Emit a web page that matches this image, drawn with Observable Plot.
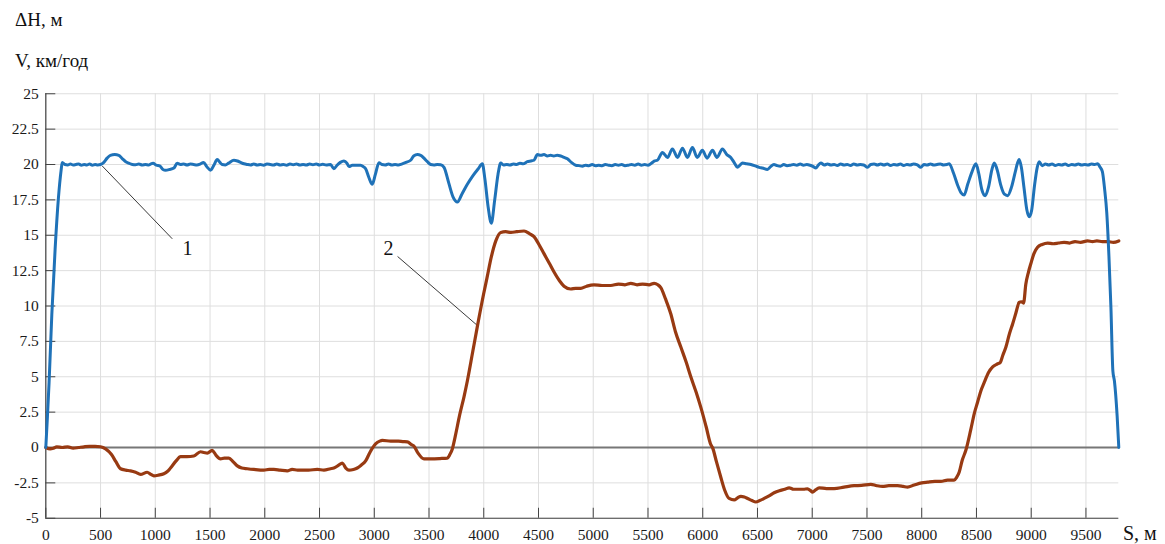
<!DOCTYPE html>
<html>
<head>
<meta charset="utf-8">
<script src="https://cdn.jsdelivr.net/npm/d3@7"></script>
<script src="https://cdn.jsdelivr.net/npm/@observablehq/plot@0.6"></script>
<style>
  body { margin: 0; background: #fff; }
  #wrap { position: relative; width: 1165px; height: 544px; font-family: "Liberation Serif", "DejaVu Serif", serif; color: #111; }
  .lbl { position: absolute; font-size: 19px; line-height: 19px; white-space: nowrap; font-family: "Liberation Serif", "DejaVu Serif", serif; }
  #chart { position: absolute; left: 0; top: 75px; }
  #chart svg, #chart svg text { font-family: "Liberation Serif", "DejaVu Serif", serif !important; }
</style>
</head>
<body>
<div id="wrap">
  <div class="lbl" style="left:15px; top:10px;">ΔH, м</div>
  <div class="lbl" style="left:15px; top:51px;">V, км/год</div>
  <div id="chart"></div>
  <div class="lbl" style="left:1123px; top:523px; font-size:20px; line-height:20px;">S, м</div>
</div>
<script>
// Distance along the route, m
const xTicks = [0, 500, 1000, 1500, 2000, 2500, 3000, 3500, 4000, 4500, 5000,
                5500, 6000, 6500, 7000, 7500, 8000, 8500, 9000, 9500];
const yTicks = [-5, -2.5, 0, 2.5, 5, 7.5, 10, 12.5, 15, 17.5, 20, 22.5, 25];

// Curve 1: speed V, km/h, against distance S
const speedS = [
  0, 15, 30, 55, 85, 115, 140, 150, 175, 200, 225, 250, 275, 300, 325, 350, 375, 400, 425, 450, 475, 500,
  530, 560, 590, 630, 667, 700, 730, 757, 790, 820, 850, 880, 910, 940, 957, 980, 1010, 1040, 1070, 1094,
  1130, 1170, 1200, 1230, 1260, 1290, 1320, 1350, 1380, 1410, 1441, 1470, 1505, 1535, 1566, 1590, 1611,
  1640, 1670, 1718, 1750, 1779, 1810, 1840, 1870, 1900, 1930, 1960, 1990, 2020, 2050, 2080, 2110, 2140,
  2170, 2200, 2230, 2260, 2290, 2320, 2350, 2380, 2410, 2440, 2470, 2500, 2530, 2560, 2601, 2631, 2660,
  2690, 2723, 2750, 2769, 2800, 2840, 2875, 2900, 2921, 2950, 2982, 3010, 3043, 3070, 3100, 3130, 3160,
  3190, 3220, 3250, 3290, 3332, 3360, 3394, 3424, 3454, 3485, 3515, 3545, 3575, 3606, 3637, 3680, 3720,
  3759, 3800, 3850, 3900, 3950, 3987, 4010, 4040, 4069, 4100, 4130, 4155, 4180, 4210, 4240, 4270, 4300,
  4330, 4360, 4398, 4430, 4459, 4490, 4520, 4550, 4580, 4610, 4640, 4670, 4703, 4735, 4764, 4800, 4840,
  4870, 4901, 4930, 4960, 4990, 5020, 5050, 5080, 5110, 5140, 5170, 5200, 5230, 5260, 5290, 5320, 5350,
  5380, 5410, 5440, 5470, 5500, 5525, 5560, 5586, 5632, 5678, 5723, 5770, 5815, 5860, 5906, 5950, 5997,
  6040, 6089, 6130, 6180, 6220, 6256, 6290, 6317, 6340, 6363, 6400, 6440, 6480, 6515, 6545, 6591, 6620,
  6650, 6680, 6710, 6740, 6770, 6800, 6830, 6860, 6890, 6920, 6950, 6980, 7010, 7033, 7055, 7079, 7110,
  7140, 7170, 7200, 7230, 7260, 7290, 7320, 7350, 7380, 7410, 7440, 7470, 7505, 7535, 7565, 7595, 7625,
  7655, 7685, 7715, 7745, 7775, 7805, 7835, 7865, 7895, 7925, 7960, 7992, 8020, 8050, 8080, 8110, 8140,
  8170, 8200, 8230, 8251, 8290, 8330, 8360, 8388, 8420, 8460, 8495, 8520, 8550, 8580, 8610, 8640, 8662,
  8690, 8720, 8755, 8785, 8820, 8855, 8875, 8890, 8910, 8935, 8960, 8982, 9005, 9030, 9055, 9073, 9100,
  9130, 9160, 9190, 9220, 9250, 9280, 9310, 9340, 9370, 9400, 9430, 9460, 9490, 9520, 9550, 9580, 9607,
  9630, 9650, 9670, 9690, 9710, 9728, 9746, 9760, 9785, 9800
];
const speedV = [
  0, 2.2, 4.6, 9.4, 14.0, 17.6, 19.6, 20.15, 20.0, 19.97, 20.03, 19.97, 20.0, 20.03, 19.95, 20.0, 19.97, 20.03, 19.95, 20.0, 19.97, 20.0,
  20.15, 20.45, 20.65, 20.7, 20.65, 20.4, 20.2, 20.1, 20.0, 19.98, 20.03, 19.97, 20.0, 19.97, 20.03, 20.08, 19.95, 19.9, 19.65, 19.6,
  19.65, 19.75, 20.08, 20.0, 20.03, 19.97, 20.03, 20.0, 19.97, 20.03, 20.15, 19.85, 19.6, 19.95, 20.35, 20.15, 20.0,
  19.97, 20.1, 20.3, 20.25, 20.15, 20.05, 20.0, 19.97, 20.03, 19.97, 20.0, 19.95, 20.03, 20.0, 19.97, 20.03, 19.97,
  20.0, 19.95, 20.03, 19.98, 20.03, 19.97, 20.0, 19.97, 20.03, 19.98, 20.03, 19.97, 20.02, 19.97, 20.0, 19.7, 19.95,
  20.15, 20.25, 20.1, 19.85, 19.95, 19.95, 19.95, 19.85, 19.7, 19.1, 18.6, 19.3, 20.12, 20.0, 19.97, 20.03, 19.97,
  20.0, 19.97, 20.03, 20.15, 20.3, 20.6, 20.7, 20.65, 20.45, 20.2, 20.0, 19.97, 20.0, 19.98, 19.8, 18.7, 17.7,
  17.35, 17.9, 18.6, 19.2, 19.7, 20.05, 19.0, 17.0, 15.85, 17.5, 19.3, 20.1, 19.97, 20.0, 19.97, 20.03, 20.0,
  20.08, 20.05, 20.2, 20.25, 20.3, 20.7, 20.65, 20.7, 20.6, 20.65, 20.6, 20.65, 20.6, 20.5, 20.4, 20.15, 19.95,
  19.92, 19.88, 19.95, 19.92, 20.0, 19.92, 19.95, 19.92, 20.0, 19.95, 19.92, 20.0, 19.95, 20.0, 19.92, 19.95, 20.0,
  19.95, 20.03, 19.95, 20.0, 19.95, 20.05, 20.25, 20.3, 20.85, 20.5, 21.1, 20.5, 21.15, 20.5, 21.2, 20.5, 21.0,
  20.45, 21.0, 20.5, 21.1, 20.7, 20.5, 20.1, 19.8, 19.95, 20.1, 20.05, 20.0, 19.9, 19.8, 19.75, 19.65, 19.85,
  20.0, 19.92, 19.88, 20.0, 19.92, 19.95, 20.0, 19.95, 20.03, 19.95, 20.0, 19.95, 19.85, 19.75, 19.95, 20.1, 19.97,
  20.03, 19.97, 20.0, 19.93, 20.03, 19.97, 20.0, 19.93, 20.03, 19.97, 20.0, 19.97, 19.8, 20.0, 20.03, 19.97, 20.03,
  19.97, 20.03, 19.93, 20.0, 19.97, 20.03, 19.93, 20.0, 19.97, 20.03, 19.97, 19.8, 20.0, 19.97, 20.03, 19.97, 20.0,
  20.03, 19.97, 20.0, 20.05, 19.4, 18.5, 18.0, 17.85, 18.6, 19.5, 20.05, 19.4, 18.2, 17.8, 18.4, 19.6, 20.1,
  19.6, 18.6, 17.9, 17.8, 18.4, 19.5, 20.1, 20.35, 19.8, 18.3, 16.8, 16.3, 16.8, 18.5, 19.8, 20.2, 19.92,
  20.03, 19.97, 20.03, 19.93, 20.0, 19.97, 20.03, 19.93, 20.0, 19.97, 20.03, 19.97, 20.0, 19.97, 20.03, 20.0, 20.05,
  19.8, 19.5, 18.3, 16.6, 13.5, 9.9, 5.4, 4.7, 2.2, 0
];

// Curve 2: elevation difference ΔH, m, against distance S
const elevS = [
  0, 40, 70, 100, 150, 200, 250, 300, 350, 400, 450, 500, 546, 600, 640, 683, 730, 774, 820, 865, 926, 960,
  987, 1030, 1078, 1110, 1139, 1190, 1231, 1290, 1352, 1413, 1445, 1475, 1520, 1555, 1596, 1630, 1672, 1710,
  1749, 1790, 1840, 1900, 1992, 2040, 2083, 2140, 2205, 2250, 2300, 2400, 2480, 2540, 2600, 2631, 2675, 2708,
  2740, 2769, 2810, 2845, 2880, 2921, 2960, 3012, 3050, 3074, 3150, 3220, 3260, 3302, 3340, 3362, 3400, 3454,
  3520, 3600, 3667, 3690, 3713, 3740, 3780, 3820, 3850, 3900, 3945, 4000, 4030, 4070, 4110, 4155, 4200, 4250,
  4300, 4368, 4420, 4459, 4500, 4550, 4600, 4642, 4690, 4733, 4794, 4840, 4886, 4940, 5007, 5080, 5160, 5230,
  5290, 5343, 5400, 5450, 5510, 5556, 5590, 5617, 5660, 5708, 5750, 5800, 5850, 5891, 5940, 5982, 6030, 6074,
  6089, 6125, 6165, 6200, 6241, 6287, 6320, 6348, 6380, 6409, 6450, 6485, 6520, 6561, 6610, 6652, 6700, 6750,
  6789, 6830, 6866, 6920, 6957, 6985, 7003, 7030, 7063, 7130, 7200, 7290, 7383, 7450, 7535, 7590, 7642, 7700,
  7779, 7830, 7870, 7931, 8000, 8053, 8120, 8175, 8236, 8296, 8320, 8342, 8370, 8403, 8449, 8480, 8510, 8540,
  8571, 8610, 8648, 8690, 8717, 8740, 8769, 8800, 8831, 8860, 8890, 8910, 8930, 8951, 8975, 8997, 9025, 9058,
  9100, 9150, 9200, 9250, 9300, 9350, 9400, 9450, 9515, 9560, 9600, 9650, 9700, 9750, 9800
];
const elevH = [
  0, -0.1, -0.05, 0.05, 0.0, 0.05, -0.05, 0.0, 0.05, 0.08, 0.08, 0.05, -0.1, -0.5, -1.0, -1.5, -1.6, -1.65, -1.75, -1.9, -1.75, -1.9,
  -2.0, -1.95, -1.85, -1.7, -1.45, -0.95, -0.65, -0.65, -0.6, -0.3, -0.35, -0.4, -0.2, -0.55, -0.8, -0.75, -0.75, -1.0,
  -1.3, -1.45, -1.5, -1.55, -1.6, -1.55, -1.55, -1.6, -1.65, -1.55, -1.6, -1.6, -1.55, -1.6, -1.5, -1.45, -1.25, -1.1,
  -1.45, -1.6, -1.55, -1.45, -1.25, -0.95, -0.35, 0.25, 0.45, 0.5, 0.45, 0.45, 0.42, 0.4, 0.2, 0.1, -0.4, -0.8,
  -0.8, -0.78, -0.75, -0.5, -0.1, 0.8, 2.3, 3.6, 4.7, 6.8, 8.7, 10.9, 12.0, 13.5, 14.6, 15.2, 15.25, 15.2,
  15.25, 15.3, 15.1, 14.9, 14.4, 13.7, 13.0, 12.4, 11.8, 11.4, 11.2, 11.25, 11.25, 11.4, 11.5, 11.45, 11.45, 11.55,
  11.5, 11.6, 11.5, 11.55, 11.5, 11.6, 11.5, 11.3, 10.5, 9.45, 8.2, 7.1, 6.0, 5.0, 3.9, 2.85, 1.5, 0.2,
  0.0, -1.0, -2.1, -3.0, -3.6, -3.7, -3.55, -3.45, -3.5, -3.6, -3.75, -3.85, -3.75, -3.6, -3.4, -3.2, -3.05, -2.95,
  -2.85, -2.95, -2.95, -2.95, -2.92, -3.05, -3.15, -3.0, -2.85, -2.9, -2.9, -2.8, -2.7, -2.68, -2.6, -2.7, -2.75, -2.7,
  -2.7, -2.75, -2.8, -2.65, -2.5, -2.45, -2.4, -2.4, -2.3, -2.3, -2.1, -1.75, -0.9, -0.2, 1.3, 2.4, 3.2, 4.0,
  4.6, 5.3, 5.7, 5.9, 6.0, 6.5, 7.1, 8.0, 8.75, 9.5, 10.25, 10.3, 10.2, 11.55, 12.4, 13.0, 13.7, 14.15,
  14.35, 14.45, 14.4, 14.45, 14.5, 14.45, 14.55, 14.5, 14.6, 14.55, 14.6, 14.55, 14.55, 14.5, 14.6
];

// Curve numbers with their leader lines
const calloutText = ["1", "2"];
const calloutS = [1294, 3131];
const calloutY = [14.05, 14.05];
const leaderS1 = [515, 3213];
const leaderY1 = [19.9, 13.5];
const leaderS2 = [1155, 3945];
const leaderY2 = [14.75, 8.6];

const speed = speedS.map((s, i) => ({s, v: speedV[i]}));
const elev = elevS.map((s, i) => ({s, h: elevH[i]}));
const callouts = calloutText.map((t, i) => ({
  t, s: calloutS[i], y: calloutY[i],
  x1: leaderS1[i], y1: leaderY1[i], x2: leaderS2[i], y2: leaderY2[i]
}));

const W = 1165, H = 469;
const mL = 45.3, mR = 46.7, mT = 18.25, mB = 26.25;
const plotW = W - mL - mR, plotH = H - mT - mB;
const tickLen = 10;
const fmt = d => String(d);
const serif = "Liberation Serif";

const chart = Plot.plot({
  width: W,
  height: H,
  marginLeft: mL,
  marginRight: mR,
  marginTop: mT,
  marginBottom: mB,
  style: {fontFamily: serif, fontSize: "15.5px", color: "#1a1a1a", background: "#fff"},
  x: {domain: [0, 9800]},
  y: {domain: [-5, 25]},
  marks: [
    Plot.gridX(xTicks, {stroke: "#dedede", strokeOpacity: 1}),
    Plot.gridY(yTicks, {stroke: "#dedede", strokeOpacity: 1}),
    Plot.ruleY([0], {stroke: "#777", strokeWidth: 2}),
    Plot.ruleX([0], {stroke: "#444", strokeWidth: 1.2}),
    Plot.ruleY([-5], {stroke: "#444", strokeWidth: 1.2}),
    Plot.ruleX(xTicks, {x: d => d, insetTop: plotH - tickLen, stroke: "#444"}),
    Plot.ruleY(yTicks, {y: d => d, insetRight: plotW - tickLen, stroke: "#444"}),
    Plot.axisX(xTicks, {tickSize: 0, tickPadding: 11, tickFormat: fmt, label: null, fontFamily: serif, fontSize: 15.5}),
    Plot.axisY(yTicks, {tickSize: 0, tickPadding: 7, tickFormat: fmt, label: null, fontFamily: serif, fontSize: 15.5}),
    Plot.link(callouts, {x1: "x1", y1: "y1", x2: "x2", y2: "y2", stroke: "#222", strokeWidth: 0.9}),
    Plot.text(callouts, {x: "s", y: "y", text: "t", fontSize: 20, fontFamily: serif, fill: "#111"}),
    Plot.line(elev, {x: "s", y: "h", curve: "monotone-x", stroke: "#983a12", strokeWidth: 3.2, strokeLinejoin: "round"}),
    Plot.line(speed, {x: "s", y: "v", curve: "monotone-x", stroke: "#1f72b8", strokeWidth: 3, strokeLinejoin: "round"})
  ]
});
document.getElementById("chart").appendChild(chart);
</script>
</body>
</html>
